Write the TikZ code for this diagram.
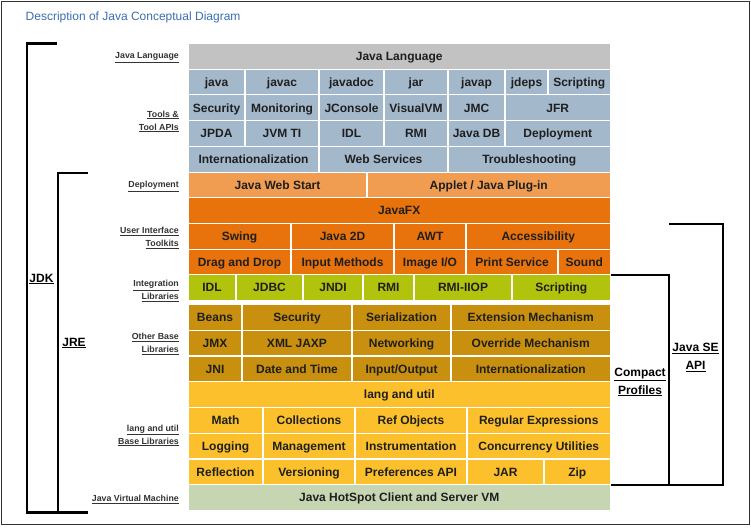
\documentclass[tikz,border=0pt]{standalone}
\usepackage{fontspec}
\setmainfont{Liberation Sans}
\usepackage{xcolor}

\definecolor{titleblue}{HTML}{3B6DB0}
\definecolor{labelgray}{HTML}{333333}
\definecolor{langgray}{HTML}{C2C2C2}
\definecolor{toolblue}{HTML}{A4B8CC}
\definecolor{deplorange}{HTML}{F09D52}
\definecolor{uiorange}{HTML}{E8720C}
\definecolor{intgreen}{HTML}{B1C30D}
\definecolor{basegold}{HTML}{C98F0E}
\definecolor{langyellow}{HTML}{FBC02C}
\definecolor{vmgreen}{HTML}{C7D6B2}

\begin{document}
\begin{tikzpicture}[x=1pt,y=-1pt,
    cell/.style={inner sep=0pt, minimum height=24.7pt, text=black!88,
        text height=8.6pt, text depth=0pt,
        font=\fontsize{12}{14}\selectfont\bfseries},
    lbl/.style={anchor=east, align=right, inner sep=0pt, text=labelgray,
        font=\fontsize{8.8}{13}\selectfont\bfseries},
    biglbl/.style={align=center, inner sep=0pt, text=black,
        font=\fontsize{12}{18}\selectfont\bfseries},
    brk/.style={line width=2.2pt, black}]
    \useasboundingbox (0,0) rectangle (751,527);

    % outer frame and title
    \draw[line width=1.5pt, black!80] (1.5,1.5) rectangle (749.3,524.7);
    \node[anchor=west, inner sep=0pt, text=titleblue, font=\fontsize{12}{14}\selectfont]
        (title) at (25.5,17) {Description of Java Conceptual Diagram};

    % java language
    \node[cell, fill=langgray, minimum width=421.3pt] (jlang) at (399.25,56.35) {Java Language};

    % tools and tool apis
    \foreach \a/\b/\t [count=\n] in {188/245/java, 245/319/javac, 319/384/javadoc,
        384/448/jar, 448/505/javap, 505/548/jdeps, 548/610.5/Scripting}
        \node[cell, fill=toolblue, minimum width={\b-\a-1.2}] (toolsA\n) at ({(\a+\b)/2},82.05) {\t};
    \foreach \a/\b/\t [count=\n] in {188/245/Security, 245/319/Monitoring, 319/384/JConsole,
        384/448/VisualVM, 448/505/JMC, 505/610.5/JFR}
        \node[cell, fill=toolblue, minimum width={\b-\a-1.2}] (toolsB\n) at ({(\a+\b)/2},107.75) {\t};
    \foreach \a/\b/\t [count=\n] in {188/245/JPDA, 245/319/JVM TI, 319/384/IDL,
        384/448/RMI, 448/505/Java DB, 505/610.5/Deployment}
        \node[cell, fill=toolblue, minimum width={\b-\a-1.2}] (toolsC\n) at ({(\a+\b)/2},133.45) {\t};
    \foreach \a/\b/\t [count=\n] in {188/319/Internationalization, 319/448/Web Services,
        448/610.5/Troubleshooting}
        \node[cell, fill=toolblue, minimum width={\b-\a-1.2}] (toolsD\n) at ({(\a+\b)/2},159.15) {\t};

    % deployment
    \foreach \a/\b/\t [count=\n] in {188/367/Java Web Start, 367/610.5/{Applet / Java Plug-in}}
        \node[cell, fill=deplorange, minimum width={\b-\a-1.2}] (depl\n) at ({(\a+\b)/2},184.85) {\t};

    % user interface toolkits
    \node[cell, fill=uiorange, minimum width=421.3pt] (javafx) at (399.25,210.55) {JavaFX};
    \foreach \a/\b/\t [count=\n] in {188/291/Swing, 291/394/Java 2D, 394/466/AWT,
        466/610.5/Accessibility}
        \node[cell, fill=uiorange, minimum width={\b-\a-1.2}] (uiA\n) at ({(\a+\b)/2},236.25) {\t};
    \foreach \a/\b/\t [count=\n] in {188/291/Drag and Drop, 291/394/Input Methods,
        394/466/{Image I/O}, 466/558/Print Service, 558/610.5/Sound}
        \node[cell, fill=uiorange, minimum width={\b-\a-1.2}] (uiB\n) at ({(\a+\b)/2},261.95) {\t};

    % integration libraries
    \foreach \a/\b/\t [count=\n] in {188/236/IDL, 236/303/JDBC, 303/363/JNDI,
        363/414/RMI, 414/512/RMI-IIOP, 512/610.5/Scripting}
        \node[cell, fill=intgreen, minimum width={\b-\a-1.2}] (integ\n) at ({(\a+\b)/2},287.65) {\t};

    % other base libraries
    \foreach \a/\b/\t [count=\n] in {188/242/Beans, 242/352/Security, 352/451/Serialization,
        451/610.5/Extension Mechanism}
        \node[cell, fill=basegold, minimum width={\b-\a-1.2}] (baseA\n) at ({(\a+\b)/2},317.4) {\t};
    \foreach \a/\b/\t [count=\n] in {188/242/JMX, 242/352/XML JAXP, 352/451/Networking,
        451/610.5/Override Mechanism}
        \node[cell, fill=basegold, minimum width={\b-\a-1.2}] (baseB\n) at ({(\a+\b)/2},343.1) {\t};
    \foreach \a/\b/\t [count=\n] in {188/242/JNI, 242/352/Date and Time, 352/451/{Input/Output},
        451/610.5/Internationalization}
        \node[cell, fill=basegold, minimum width={\b-\a-1.2}] (baseC\n) at ({(\a+\b)/2},368.9) {\t};

    % lang and util base libraries
    \node[cell, fill=langyellow, minimum width=421.3pt] (langutil) at (399.25,394.6) {lang and util};
    \foreach \a/\b/\t [count=\n] in {188/263/Math, 263/355/Collections, 355/467/Ref Objects,
        467/610.5/Regular Expressions}
        \node[cell, fill=langyellow, minimum width={\b-\a-1.2}] (luA\n) at ({(\a+\b)/2},420.4) {\t};
    \foreach \a/\b/\t [count=\n] in {188/263/Logging, 263/355/Management, 355/467/Instrumentation,
        467/610.5/Concurrency Utilities}
        \node[cell, fill=langyellow, minimum width={\b-\a-1.2}] (luB\n) at ({(\a+\b)/2},446.1) {\t};
    \foreach \a/\b/\t [count=\n] in {188/263/Reflection, 263/355/Versioning, 355/467/Preferences API,
        467/544/JAR, 544/610.5/Zip}
        \node[cell, fill=langyellow, minimum width={\b-\a-1.2}] (luC\n) at ({(\a+\b)/2},471.9) {\t};

    % java virtual machine
    \node[cell, fill=vmgreen, minimum width=421.3pt] (jvm) at (399.25,497.6) {Java HotSpot Client and Server VM};

    % layer names on the left
    \node[lbl] (lblLang) at (179,57.5) {\underline{Java Language}};
    \node[lbl] (lblTools) at (179,121.5) {\underline{Tools \&}\\\underline{Tool APIs}};
    \node[lbl] (lblDepl) at (179,186.5) {\underline{Deployment}};
    \node[lbl] (lblUI) at (179,238) {\underline{User Interface}\\\underline{Toolkits}};
    \node[lbl] (lblInteg) at (179,291) {\underline{Integration}\\\underline{Libraries}};
    \node[lbl] (lblBase) at (179,344) {\underline{Other Base}\\\underline{Libraries}};
    \node[lbl] (lblLU) at (179,435.5) {\underline{lang and util}\\\underline{Base Libraries}};
    \node[lbl] (lblJVM) at (179,499.5) {\underline{Java Virtual Machine}};

    % brackets
    \draw[brk] (56.7,43.5) -| (26.7,512.5) -- (88,512.5);
    \draw[brk] (88,172.7) -| (58.3,512.5);
    \draw[brk] (610.5,275.3) -| (669,485.3);
    \draw[brk] (669,224.3) -| (722.7,485.3) -- (610.5,485.3);

    \node[biglbl] (jdk) at (41.5,279) {\underline{JDK}};
    \node[biglbl] (jre) at (74,343) {\underline{JRE}};
    \node[biglbl] (compact) at (640,382) {\underline{Compact}\\\underline{Profiles}};
    \node[biglbl] (javase) at (695.5,357.5) {\underline{Java SE}\\\underline{API}};
\end{tikzpicture}
\end{document}
